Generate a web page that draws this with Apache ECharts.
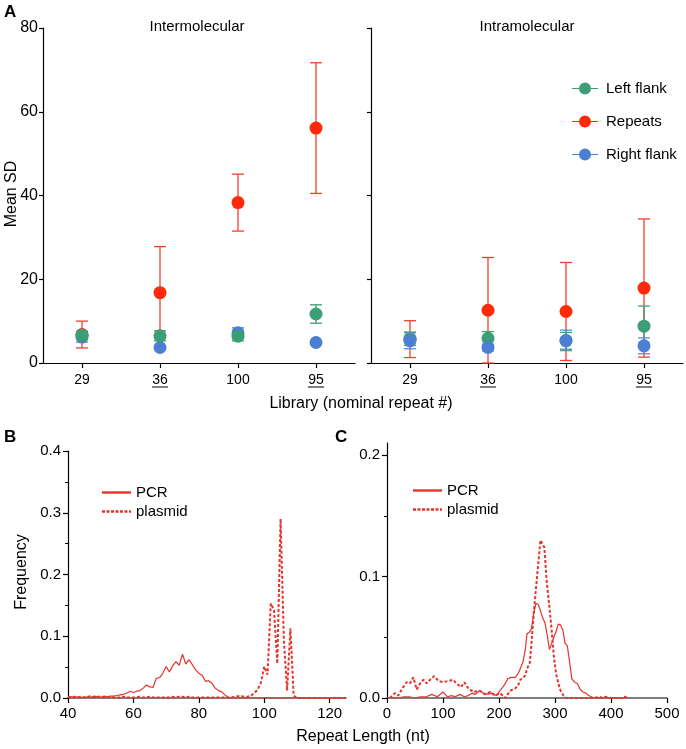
<!DOCTYPE html>
<html><head><meta charset="utf-8">
<script src="https://cdn.jsdelivr.net/npm/echarts@6/dist/echarts.min.js"></script>
<style>html,body{margin:0;padding:0;background:#fff}#c{width:686px;height:749px}</style>
</head><body><div id="c"></div>
<script>
// ---------- Panel A data ----------
const libCategories = ['29', '36', '100', '95'];
const underlinedLibs = ['36', '95'];

const interLeftMean  = [6.6, 6.5, 6.4, 11.7];
const interLeftErr   = [1.0, 1.2, 1.1, 2.2];
const interRepMean   = [6.8, 16.8, 38.3, 56.1];
const interRepErr    = [3.2, 11.0, 6.8, 15.6];
const interRightMean = [6.2, 3.7, 7.2, 4.9];
const interRightErr  = [1.2, 0.4, 1.2, 0.4];

const intraLeftMean  = [5.8, 5.9, 5.3, 8.8];
const intraLeftErr   = [1.6, 1.6, 2.0, 4.8];
const intraRepMean   = [5.7, 12.6, 12.3, 17.9];
const intraRepErr    = [4.4, 12.6, 11.7, 16.5];
const intraRightMean = [5.3, 3.7, 5.4, 4.1];
const intraRightErr  = [1.9, 0.8, 2.45, 1.9];

// ---------- Panel B data ----------
const bLength = [40,41,42,43,44,45,46,47,48,49,50,51,52,53,54,55,56,57,58,59,60,61,62,63,64,65,66,67,68,69,70,71,72,73,74,75,76,77,78,79,80,81,82,83,84,85,86,87,88,89,90,91,92,93,94,95,96,97,98,99,100,101,102,103,104,105,106,107,108,109,110,111,112,113,114,115,116,117,118,119,120,121,122,123,124,125];
const bPCR = [0.001,0.002,0.001,0.002,0.001,0.001,0.002,0.001,0.003,0.002,
  0.001,0.003,0.002,0.003,0.003,0.004,0.005,0.006,0.008,0.011,
  0.009,0.011,0.012,0.016,0.021,0.018,0.017,0.032,0.033,0.040,
  0.051,0.042,0.052,0.059,0.053,0.071,0.055,0.062,0.054,0.046,
  0.040,0.037,0.027,0.028,0.024,0.016,0.012,0.010,0.005,0.001,
  0,0,0,0,0,0,0,0,0,0, 0,0,0,0,0,0,0,0,0,0, 0,0,0,0,0,0,0,0,0,0, 0,0,0,0,0,0];
const bPlasmid = [0.002,0.001,0.002,0.001,0.002,0.001,0.002,0.003,0.001,0.002,
  0.002,0.001,0.001,0.002,0.001,0.001,0.001,0.002,0.001,0.001,
  0.001,0.001,0.002,0.001,0.001,0.002,0.001,0.001,0.001,0.001,
  0.001,0.001,0.002,0.001,0.002,0.002,0.001,0.002,0.001,0.001,
  0.001,0.001,0.001,0.001,0.001,0.001,0.001,0.001,0.001,0.001,
  0.001,0.002,0.003,0.003,0.002,0.002,0.004,0.008,0.014,0.025,
  0.051,0.038,0.153,0.142,0.056,0.290,0.094,0.012,0.113,0.004,
  0,0,0,0,0,0,0,0,0,0, 0,0,0,0,0,0];
const bXTicks = [40, 60, 80, 100, 120];

// ---------- Panel C data ----------
const cPCRLength = [10,20,30,40,50,60,70,80,90,100,108,115,122,130,138,145,152,158,165,172,180,187,195,202,210,216,222,229,234,238,243,247,250,254,258,262,266,270,274,278,282,286,290,294,298,302,306,310,314,318,322,326,330,335,340,345,350,355,360,365,370,380,390,400,410,420,430];
const cPCR = [0,0,0.001,0.001,0,0.001,0.001,0.003,0.001,0.005,0.001,0.002,0.001,0.003,0.001,0.002,0.004,0.003,0.006,0.004,0.003,0.004,0.002,0.006,0.011,0.016,0.017,0.017,0.020,0.024,0.030,0.040,0.053,0.054,0.057,0.070,0.078,0.077,0.072,0.066,0.062,0.052,0.040,0.045,0.050,0.055,0.061,0.060,0.056,0.045,0.043,0.030,0.016,0.013,0.012,0.007,0.005,0.004,0.002,0.001,0,0,0,0,0,0,0];
const cPlasmidLength = [5,8,14,20,25,29,35,41,47,53,59,65,71,77,84,92,100,109,118,124,132,138,145,154,166,175,184,193,202,211,220,225,229,234,238,246,251,255,258,262,266,270,274,277,281,285,290,294,298,302,306,310,315,320,330,340,350,360,370,380,385,390,400,410,420,425,430];
const cPlasmid = [0,0.001,0.004,0.002,0.006,0.009,0.013,0.012,0.017,0.007,0.012,0.015,0.012,0.015,0.018,0.014,0.013,0.014,0.015,0.012,0.009,0.013,0.008,0.005,0.006,0.003,0.005,0.002,0.004,0,0.006,0.007,0.008,0.010,0.015,0.018,0.025,0.029,0.045,0.070,0.090,0.110,0.130,0.131,0.124,0.097,0.075,0.056,0.034,0.020,0.012,0.006,0.002,0,0,0,0,0,0,0.001,0,0.001,0,0,0,0.001,0];
const cXTicks = [0, 100, 200, 300, 400, 500];

// ---------- styling ----------
const FONT = 'Liberation Sans, Arial, Helvetica, sans-serif';
const RED = '#ff2a0a', RED_BAR = '#f0402c';
const GREEN = '#3c9e74', GREEN_BAR = '#3c9e74';
const BLUE = '#4a7fd4', BLUE_BAR = '#5b8ad6';
const LINE_RED = '#e5342b';

function zip(xs, ys) { return xs.map((x, i) => [x, ys[i]]); }

function errSeries(name, color, means, errs, axisIdx, z) {
  return {
    type: 'custom', name: name, xAxisIndex: axisIdx, yAxisIndex: axisIdx, z: z, silent: true,
    data: means.map((m, i) => [i, m, errs[i]]),
    encode: { x: 0, y: 1 },
    renderItem: function (params, api) {
      const i = api.value(0), m = api.value(1), e = api.value(2);
      const top = api.coord([i, m + e]);
      const bot = api.coord([i, Math.max(0, m - e)]);
      const c = 6;
      const st = { stroke: color, lineWidth: 1.3 };
      return { type: 'group', children: [
        { type: 'line', shape: { x1: top[0], y1: top[1], x2: bot[0], y2: bot[1] }, style: st },
        { type: 'line', shape: { x1: top[0] - c, y1: top[1], x2: top[0] + c, y2: top[1] }, style: st },
        { type: 'line', shape: { x1: bot[0] - c, y1: bot[1], x2: bot[0] + c, y2: bot[1] }, style: st }
      ]};
    }
  };
}
function dotSeries(name, color, means, axisIdx, z) {
  return { type: 'scatter', name: name, xAxisIndex: axisIdx, yAxisIndex: axisIdx, z: z,
    symbol: 'circle', symbolSize: 13, itemStyle: { color: color, opacity: 1 }, data: means.slice() };
}

const axisLineBlack = { show: true, lineStyle: { color: '#000', width: 1.2 } };

function catAxis(gridIndex) {
  return {
    type: 'category', gridIndex: gridIndex, data: libCategories, boundaryGap: true,
    axisLine: axisLineBlack,
    axisTick: { show: true, alignWithLabel: true, length: 5, lineStyle: { color: '#000', width: 1.2 } },
    axisLabel: { fontSize: 14, fontFamily: FONT, color: '#000', margin: 10 },
    splitLine: { show: false }
  };
}
function aYAxis(gridIndex, showLabels) {
  return {
    type: 'value', gridIndex: gridIndex, min: 0, max: 80, interval: 20,
    axisLine: axisLineBlack,
    axisTick: { show: true, length: 4, lineStyle: { color: '#000', width: 1.2 } },
    axisLabel: { show: showLabels, fontSize: 16, fontFamily: FONT, color: '#000', margin: 5 },
    splitLine: { show: false }
  };
}

const legendIcon = 'path://M0,5.4H7V6.6H0Z M19,5.4H26V6.6H19Z M7,6A6,6 0 1,1 19,6A6,6 0 1,1 7,6Z';
const solidIcon = 'path://M0,0H29V2.4H0Z';
const dashIcon = 'path://M0,0H3V2.4H0Z M4.5,0H7.5V2.4H4.5Z M9,0H12V2.4H9Z M13.5,0H16.5V2.4H13.5Z M18,0H21V2.4H18Z M22.5,0H25.5V2.4H22.5Z M27,0H29V2.4H27Z';

function lineLegend(left, top) {
  return { orient: 'vertical', left: left, top: top, itemWidth: 29, itemHeight: 2.4, itemGap: 4,
    textStyle: { fontSize: 15, fontFamily: FONT, color: '#000', padding: [0, 0, 0, 0] },
    data: [{ name: 'PCR', icon: solidIcon }, { name: 'plasmid', icon: dashIcon }] };
}

const option = {
  animation: false,
  backgroundColor: '#fff',
  textStyle: { fontFamily: FONT },
  grid: [
    { left: 43, top: 28, width: 312, height: 335 },
    { left: 371, top: 28, width: 312, height: 335 },
    { left: 68, top: 451, width: 278, height: 247 },
    { left: 387, top: 443, width: 280, height: 255 }
  ],
  xAxis: [
    catAxis(0),
    catAxis(1),
    { type: 'value', gridIndex: 2, min: 40, max: 125,
      axisLine: { show: true, lineStyle: { color: '#555', width: 1.5 } },
      axisTick: { show: true, length: 5, customValues: bXTicks, lineStyle: { color: '#000', width: 1.2 } },
      axisLabel: { customValues: bXTicks, fontSize: 15, fontFamily: FONT, color: '#000', margin: 8 },
      splitLine: { show: false } },
    { type: 'value', gridIndex: 3, min: 0, max: 500,
      axisLine: { show: true, lineStyle: { color: '#555', width: 1.5 } },
      axisTick: { show: true, length: 5, customValues: cXTicks, lineStyle: { color: '#000', width: 1.2 } },
      axisLabel: { customValues: cXTicks, fontSize: 15, fontFamily: FONT, color: '#000', margin: 8 },
      splitLine: { show: false } }
  ],
  yAxis: [
    aYAxis(0, true),
    aYAxis(1, false),
    { type: 'value', gridIndex: 2, min: 0, max: 0.4, interval: 0.1,
      axisLine: axisLineBlack,
      axisTick: { show: true, length: 5, lineStyle: { color: '#000', width: 1.2 } },
      minorTick: { show: true, splitNumber: 2, length: 3, lineStyle: { color: '#000', width: 1 } },
      axisLabel: { fontSize: 15, fontFamily: FONT, color: '#000', margin: 7, formatter: v => v.toFixed(1) },
      splitLine: { show: false } },
    { type: 'value', gridIndex: 3, min: 0, max: 0.21, position: 'left',
      axisLine: axisLineBlack,
      axisTick: { show: true, length: 5, customValues: [0, 0.1, 0.2], lineStyle: { color: '#000', width: 1.2 } },
      axisLabel: { customValues: [0, 0.1, 0.2], fontSize: 15, fontFamily: FONT, color: '#000', margin: 7, formatter: v => v.toFixed(1) },
      splitLine: { show: false } },
    { type: 'value', gridIndex: 3, min: 0, max: 0.21, position: 'left', offset: 0,
      axisLine: { show: false },
      axisTick: { show: true, length: 3, customValues: [0.05, 0.15], lineStyle: { color: '#000', width: 1 } },
      axisLabel: { show: false },
      splitLine: { show: false } }
  ],
  legend: [
    { orient: 'vertical', left: 567, top: 76, itemWidth: 26, itemHeight: 12, itemGap: 18,
      textStyle: { fontSize: 15, fontFamily: FONT, color: '#000', padding: [0, 0, 0, 3] },
      data: [
        { name: 'Left flank', icon: legendIcon },
        { name: 'Repeats', icon: legendIcon },
        { name: 'Right flank', icon: legendIcon }
      ] },
    lineLegend(97, 480),
    lineLegend(408, 478)
  ],
  series: [
    // Intermolecular
    errSeries('e1', RED_BAR, interRepMean, interRepErr, 0, 2),
    dotSeries('Repeats', RED, interRepMean, 0, 3),
    errSeries('e2', BLUE_BAR, interRightMean, interRightErr, 0, 4),
    dotSeries('Right flank', BLUE, interRightMean, 0, 5),
    errSeries('e3', GREEN_BAR, interLeftMean, interLeftErr, 0, 6),
    dotSeries('Left flank', GREEN, interLeftMean, 0, 7),
    // Intramolecular
    errSeries('e4', RED_BAR, intraRepMean, intraRepErr, 1, 2),
    dotSeries('Repeats', RED, intraRepMean, 1, 3),
    errSeries('e5', GREEN_BAR, intraLeftMean, intraLeftErr, 1, 4),
    dotSeries('Left flank', GREEN, intraLeftMean, 1, 5),
    errSeries('e6', BLUE_BAR, intraRightMean, intraRightErr, 1, 6),
    dotSeries('Right flank', BLUE, intraRightMean, 1, 7),
    // B
    { type: 'line', name: 'PCR', xAxisIndex: 2, yAxisIndex: 2, showSymbol: false, symbol: 'none',
      lineStyle: { color: LINE_RED, width: 1.2 }, itemStyle: { color: LINE_RED }, data: zip(bLength, bPCR), z: 3 },
    { type: 'line', name: 'plasmid', xAxisIndex: 2, yAxisIndex: 2, showSymbol: false, symbol: 'none',
      lineStyle: { color: LINE_RED, width: 2, type: [3, 2] }, itemStyle: { color: LINE_RED }, data: zip(bLength, bPlasmid), z: 4 },
    // C
    { type: 'line', name: 'PCR', xAxisIndex: 3, yAxisIndex: 3, showSymbol: false, symbol: 'none',
      lineStyle: { color: LINE_RED, width: 1.2 }, itemStyle: { color: LINE_RED }, data: zip(cPCRLength, cPCR), z: 3 },
    { type: 'line', name: 'plasmid', xAxisIndex: 3, yAxisIndex: 3, showSymbol: false, symbol: 'none',
      lineStyle: { color: LINE_RED, width: 2, type: [3, 2] }, itemStyle: { color: LINE_RED }, data: zip(cPlasmidLength, cPlasmid), z: 4 }
  ]
};

function txt(id, text, x, y, size, bold, align, rot) {
  return { type: 'text', id: id, x: x, y: y, z: 10, rotation: rot || 0,
    style: { text: text, fontSize: size, fontFamily: FONT, fontWeight: bold ? 'bold' : 'normal', fill: '#000',
      textAlign: align || 'center', textVerticalAlign: 'middle' } };
}
const texts = [
  txt('tA', 'A', 4, 12, 17, true, 'left'),
  txt('tInter', 'Intermolecular', 197, 27, 15, false),
  txt('tIntra', 'Intramolecular', 527, 27, 15, false),
  txt('tMean', 'Mean SD', 12, 194, 16, false, 'center', Math.PI / 2),
  txt('tLib', 'Library (nominal repeat #)', 361, 404, 16, false),
  txt('tB', 'B', 4, 437, 17, true, 'left'),
  txt('tC', 'C', 335, 437, 17, true, 'left'),
  txt('tFreq', 'Frequency', 22, 572, 16, false, 'center', Math.PI / 2),
  txt('tRep', 'Repeat Length (nt)', 363, 737, 16, false)
];
option.graphic = { elements: texts };

const chart = echarts.init(document.getElementById('c'), null, { renderer: 'canvas' });
chart.setOption(option);

// underline the underlined library labels
const ul = [];
[0, 1].forEach(ax => {
  underlinedLibs.forEach(lbl => {
    const px = chart.convertToPixel({ xAxisIndex: ax }, lbl);
    const gy = 28 + 335 + 10 + 14;
    ul.push({ type: 'line', id: 'ul' + ax + lbl, z: 10,
      shape: { x1: px - 8, y1: gy, x2: px + 8, y2: gy }, style: { stroke: '#000', lineWidth: 1 } });
  });
});
chart.setOption({ graphic: { elements: texts.concat(ul) } });
</script></body></html>
